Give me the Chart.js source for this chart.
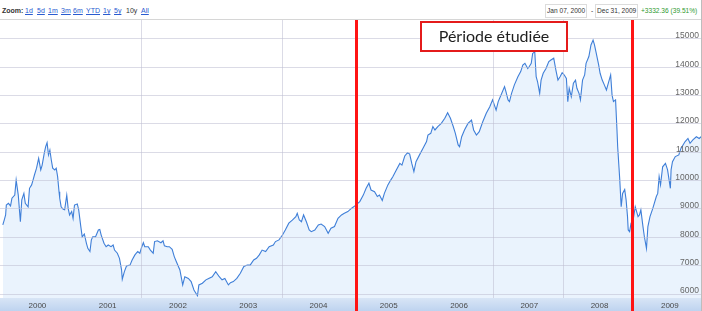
<!DOCTYPE html>
<html>
<head>
<meta charset="utf-8">
<script src="https://cdn.jsdelivr.net/npm/chart.js@4"></script>
<style>
    html, body { margin: 0; padding: 0; background: #fff; }
    #wrap { position: relative; width: 702px; height: 311px; overflow: hidden; font-family: "Liberation Sans", Arial, sans-serif; }
    #head { position: absolute; left: 0; top: 0; width: 702px; height: 19px; border-bottom: 1px solid #d6d6d6; font-size: 7px; line-height: 8px; color: #333; }
    #head span { position: absolute; top: 7px; white-space: nowrap; }
    #head .lnk { color: #2a5bd0; text-decoration: underline; }
    #head .box { top: 4px; border: 1px solid #dcdcdc; padding: 2px 1px; font-size: 6.6px; }
    #head .up { color: #2f9a2f; font-size: 6.6px; }
    #chart { position: absolute; left: 0; top: 20px; }
    #edge { position: absolute; right: 0; top: 0; width: 1px; height: 311px; background: #bdbdbd; }
</style>
</head>
<body>
<div id="wrap">
    <div id="head">
        <span style="left:2px;font-weight:bold">Zoom:</span>
        <span class="lnk" style="left:25px">1d</span>
        <span class="lnk" style="left:37px">5d</span>
        <span class="lnk" style="left:48px">1m</span>
        <span class="lnk" style="left:61px">3m</span>
        <span class="lnk" style="left:73px">6m</span>
        <span class="lnk" style="left:86px">YTD</span>
        <span class="lnk" style="left:103px">1y</span>
        <span class="lnk" style="left:114px">5y</span>
        <span style="left:126px">10y</span>
        <span class="lnk" style="left:141px">All</span>
        <span class="box" style="left:545px">Jan 07, 2000</span>
        <span style="left:591px;font-size:6.6px">-</span>
        <span class="box" style="left:595px">Dec 31, 2009</span>
        <span class="up" style="left:641px">+3332.36 (39.51%)</span>
    </div>
    <canvas id="chart" width="702" height="291"></canvas>
    <div id="edge"></div>
</div>
<script>
(function() {
    // weekly-ish closes (decimal year, index level)
    const dates = [
        2000.02, 2000.04, 2000.06, 2000.07, 2000.10, 2000.13, 2000.15, 2000.19, 2000.21, 2000.24,
        2000.27, 2000.29, 2000.32, 2000.34, 2000.38, 2000.40, 2000.43, 2000.45, 2000.47, 2000.50,
        2000.53, 2000.56, 2000.58, 2000.61, 2000.63, 2000.65, 2000.67, 2000.69, 2000.71, 2000.73,
        2000.76, 2000.78, 2000.80, 2000.82, 2000.83, 2000.85, 2000.88, 2000.90, 2000.93, 2000.95,
        2000.97, 2001.00, 2001.02, 2001.04, 2001.08, 2001.10, 2001.13, 2001.15, 2001.18, 2001.21,
        2001.23, 2001.26, 2001.28, 2001.30, 2001.34, 2001.38, 2001.40, 2001.42, 2001.46, 2001.49,
        2001.52, 2001.56, 2001.59, 2001.61, 2001.65, 2001.68, 2001.71, 2001.72, 2001.75, 2001.78,
        2001.83, 2001.86, 2001.90, 2001.94, 2001.97, 2001.99, 2002.02, 2002.04, 2002.09, 2002.12,
        2002.16, 2002.18, 2002.22, 2002.27, 2002.30, 2002.32, 2002.36, 2002.39, 2002.43, 2002.46,
        2002.49, 2002.54, 2002.58, 2002.61, 2002.66, 2002.70, 2002.74, 2002.77, 2002.79, 2002.81,
        2002.86, 2002.91, 2002.95, 2003.00, 2003.05, 2003.10, 2003.14, 2003.18, 2003.23, 2003.26,
        2003.30, 2003.35, 2003.40, 2003.45, 2003.50, 2003.54, 2003.59, 2003.63, 2003.67, 2003.71,
        2003.76, 2003.81, 2003.87, 2003.90, 2003.95, 2004.00, 2004.04, 2004.09, 2004.14, 2004.19,
        2004.21, 2004.24, 2004.27, 2004.30, 2004.34, 2004.38, 2004.41, 2004.46, 2004.51, 2004.55,
        2004.60, 2004.65, 2004.69, 2004.74, 2004.79, 2004.84, 2004.88, 2004.93, 2004.98, 2005.03,
        2005.10, 2005.15, 2005.19, 2005.23, 2005.26, 2005.31, 2005.35, 2005.38, 2005.42, 2005.45,
        2005.50, 2005.54, 2005.57, 2005.62, 2005.67, 2005.70, 2005.74, 2005.78, 2005.81, 2005.84,
        2005.87, 2005.90, 2005.95, 2006.00, 2006.05, 2006.07, 2006.11, 2006.14, 2006.17, 2006.21,
        2006.26, 2006.31, 2006.35, 2006.39, 2006.43, 2006.46, 2006.50, 2006.52, 2006.55, 2006.59,
        2006.64, 2006.69, 2006.72, 2006.76, 2006.80, 2006.85, 2006.90, 2006.95, 2006.99, 2007.04,
        2007.07, 2007.11, 2007.16, 2007.18, 2007.21, 2007.23, 2007.26, 2007.30, 2007.35, 2007.39,
        2007.42, 2007.45, 2007.49, 2007.51, 2007.54, 2007.56, 2007.59, 2007.61, 2007.63, 2007.66,
        2007.68, 2007.71, 2007.75, 2007.79, 2007.82, 2007.86, 2007.89, 2007.92, 2007.95, 2007.98,
        2008.01, 2008.04, 2008.06, 2008.08, 2008.11, 2008.14, 2008.17, 2008.19, 2008.22, 2008.24,
        2008.27, 2008.30, 2008.32, 2008.36, 2008.39, 2008.42, 2008.44, 2008.47, 2008.50, 2008.52,
        2008.55, 2008.58, 2008.61, 2008.63, 2008.67, 2008.69, 2008.71, 2008.74, 2008.76, 2008.77,
        2008.80, 2008.82, 2008.84, 2008.87, 2008.89, 2008.91, 2008.92, 2008.94, 2008.96, 2008.99,
        2009.02, 2009.06, 2009.08, 2009.10, 2009.13, 2009.15, 2009.18, 2009.20, 2009.23, 2009.27,
        2009.32, 2009.34, 2009.36, 2009.38, 2009.41, 2009.45, 2009.48, 2009.52, 2009.53, 2009.55,
        2009.59, 2009.64, 2009.67, 2009.70, 2009.73, 2009.77, 2009.80, 2009.84, 2009.89, 2009.93,
        2009.97,
    ];
    const closes = [
        8440, 8610, 8790, 9140, 9200, 9110, 9380, 9490, 10020, 9490,
        8550, 9320, 9550, 9200, 9080, 9730, 9850, 10020, 10200, 10440,
        10790, 10380, 10550, 10970, 11200, 11340, 10910, 11080, 10730, 10440,
        10380, 10440, 10140, 9610, 9380, 9080, 8990, 8970, 9490, 9020,
        8790, 8910, 8670, 9140, 9180, 8970, 8380, 8020, 8120, 7790,
        7610, 7500, 7910, 8020, 8020, 8260, 8280, 8080, 7790, 7670,
        7730, 7670, 7730, 7550, 7440, 7260, 6850, 6520, 6790, 6990,
        7020, 7200, 7380, 7500, 7440, 7610, 7810, 7670, 7670, 7550,
        7440, 7850, 7880, 7810, 7880, 7700, 7670, 7670, 7580, 7320,
        7140, 6850, 6320, 6610, 6550, 6440, 6140, 6020, 5940, 6320,
        6380, 6500, 6550, 6610, 6790, 6610, 6500, 6550, 6320, 6400,
        6440, 6550, 6730, 6970, 7020, 7020, 7200, 7260, 7380, 7550,
        7500, 7670, 7730, 7850, 7910, 8080, 8260, 8500, 8610, 8730,
        8850, 8610, 8550, 8790, 8550, 8260, 8200, 8260, 8440, 8470,
        8380, 8140, 8320, 8380, 8670, 8790, 8850, 8910, 9020, 9110,
        9260, 9490, 9730, 9910, 9670, 9610, 9440, 9490, 9300, 9550,
        9850, 10020, 10140, 10380, 10610, 10550, 10870, 10990, 10940, 10610,
        10320, 10670, 10910, 11140, 11380, 11610, 11670, 11910, 11790, 11910,
        12020, 12200, 12400, 12200, 11910, 11670, 11260, 11200, 11550, 11790,
        12020, 12140, 11790, 11610, 11730, 12080, 12380, 12610, 12850, 12490,
        12790, 13020, 13320, 13140, 12850, 12790, 13080, 13380, 13670, 13850,
        14080, 14140, 13960, 14020, 14140, 14490, 14550, 13670, 13490, 13080,
        13550, 13790, 13960, 14200, 14260, 14320, 13910, 13550, 13670, 13810,
        13730, 13610, 12790, 13260, 12960, 13440, 13550, 13260, 13080, 12850,
        13550, 13730, 14140, 14380, 14790, 14960, 14790, 14440, 14080, 13790,
        13550, 13380, 13200, 13380, 13730, 13020, 12790, 12850, 11790, 11200,
        10020, 9080, 9550, 9690, 9320, 8730, 8260, 8200, 8500, 8610,
        9080, 8730, 8790, 8970, 8380, 8020, 7610, 8380, 8730, 9020,
        9440, 9550, 10140, 9850, 10490, 10610, 10380, 9730, 10380, 10670,
        10850, 10910, 11140, 11260, 11380, 11490, 11320, 11440, 11550, 11490,
        11580,
    ];

    const yearTicks = [2000, 2001, 2002, 2003, 2004, 2005, 2006, 2007, 2008, 2009];
    const gridYears = [2002, 2004, 2007, 2008];
    const levelTicks = [6000, 7000, 8000, 9000, 10000, 11000, 12000, 13000, 14000, 15000];

    // the studied period, marked in red
    const studyBounds = [2005.04, 2008.97];
    const studyLabel = 'Période étudiée';
    const labelSpan = [2005.97, 2008.05];

    const gridColour = 'rgba(190, 190, 210, 0.55)';

    const markers = {
        id: 'markers',
        beforeDraw(chart) {
            const {ctx, chartArea, width, height} = chart;
            let band = ctx.createLinearGradient(0, chartArea.bottom, 0, height);
            band.addColorStop(0, '#d8e5f6');
            band.addColorStop(1, '#bed3ef');
            ctx.save();
            ctx.fillStyle = band;
            ctx.fillRect(0, chartArea.bottom, width, height - chartArea.bottom);
            ctx.restore();
        },
        afterDraw(chart) {
            const {ctx, height} = chart;
            const x = chart.scales.x;
            ctx.save();
            ctx.strokeStyle = '#ff1414';
            ctx.lineWidth = 3;
            for (let d of studyBounds) {
                let px = Math.round(x.getPixelForValue(d)) + 0.5;
                ctx.beginPath();
                ctx.moveTo(px, 0);
                ctx.lineTo(px, height);
                ctx.stroke();
            }

            let left = Math.round(x.getPixelForValue(labelSpan[0]));
            let right = Math.round(x.getPixelForValue(labelSpan[1]));
            ctx.fillStyle = '#fff';
            ctx.fillRect(left, 2, right - left, 29);
            ctx.strokeStyle = '#e41b1b';
            ctx.lineWidth = 2;
            ctx.strokeRect(left, 2, right - left, 29);
            ctx.fillStyle = '#1e1e1e';
            ctx.font = '16px Lato';
            ctx.textAlign = 'center';
            ctx.textBaseline = 'middle';
            ctx.fillText(studyLabel, (left + right) / 2, 17);
            ctx.restore();
        },
    };

    // no room is kept for the tick labels: they sit inside the plot and the band
    function flatten(axis) {
        axis.paddingLeft = 0;
        axis.paddingRight = 0;
        axis.paddingTop = 0;
        axis.paddingBottom = 0;
    }

    new Chart(document.getElementById('chart'), {
        type: 'line',
        data: {
            datasets: [{
                data: dates.map((d, i) => ({x: d, y: closes[i]})),
                borderColor: '#3f7fd8',
                borderWidth: 1.1,
                backgroundColor: '#eaf3fd',
                fill: 'start',
                pointRadius: 0,
                tension: 0,
            }],
        },
        options: {
            responsive: false,
            animation: false,
            layout: {padding: 0},
            plugins: {
                legend: {display: false},
                tooltip: {enabled: false},
            },
            scales: {
                x: {
                    type: 'linear',
                    min: 1999.98,
                    max: 2009.97,
                    afterFit: axis => { axis.height = 13; flatten(axis); },
                    afterBuildTicks: axis => { axis.ticks = yearTicks.map(v => ({value: v})); },
                    grid: {
                        z: 1,
                        color: c => gridYears.includes(c.tick && c.tick.value) ? gridColour : 'rgba(0,0,0,0)',
                        drawTicks: false,
                    },
                    border: {display: false},
                    ticks: {
                        autoSkip: false,
                        maxRotation: 0,
                        labelOffset: 36,
                        padding: 3,
                        color: '#4a4a4a',
                        font: {family: 'Liberation Sans', size: 8},
                        callback: v => String(v),
                    },
                },
                y: {
                    position: 'right',
                    min: 5859,
                    max: 15670,
                    afterFit: axis => { axis.width = 0; flatten(axis); },
                    afterBuildTicks: axis => { axis.ticks = levelTicks.map(v => ({value: v})); },
                    grid: {z: 1, color: gridColour, drawTicks: false},
                    border: {display: false},
                    ticks: {
                        z: 1,
                        mirror: true,
                        padding: -3,
                        labelOffset: -3,
                        color: '#666',
                        font: {family: 'Liberation Sans', size: 8.5},
                        callback: v => String(v),
                    },
                },
            },
        },
        plugins: [markers],
    });
})();
</script>
</body>
</html>
